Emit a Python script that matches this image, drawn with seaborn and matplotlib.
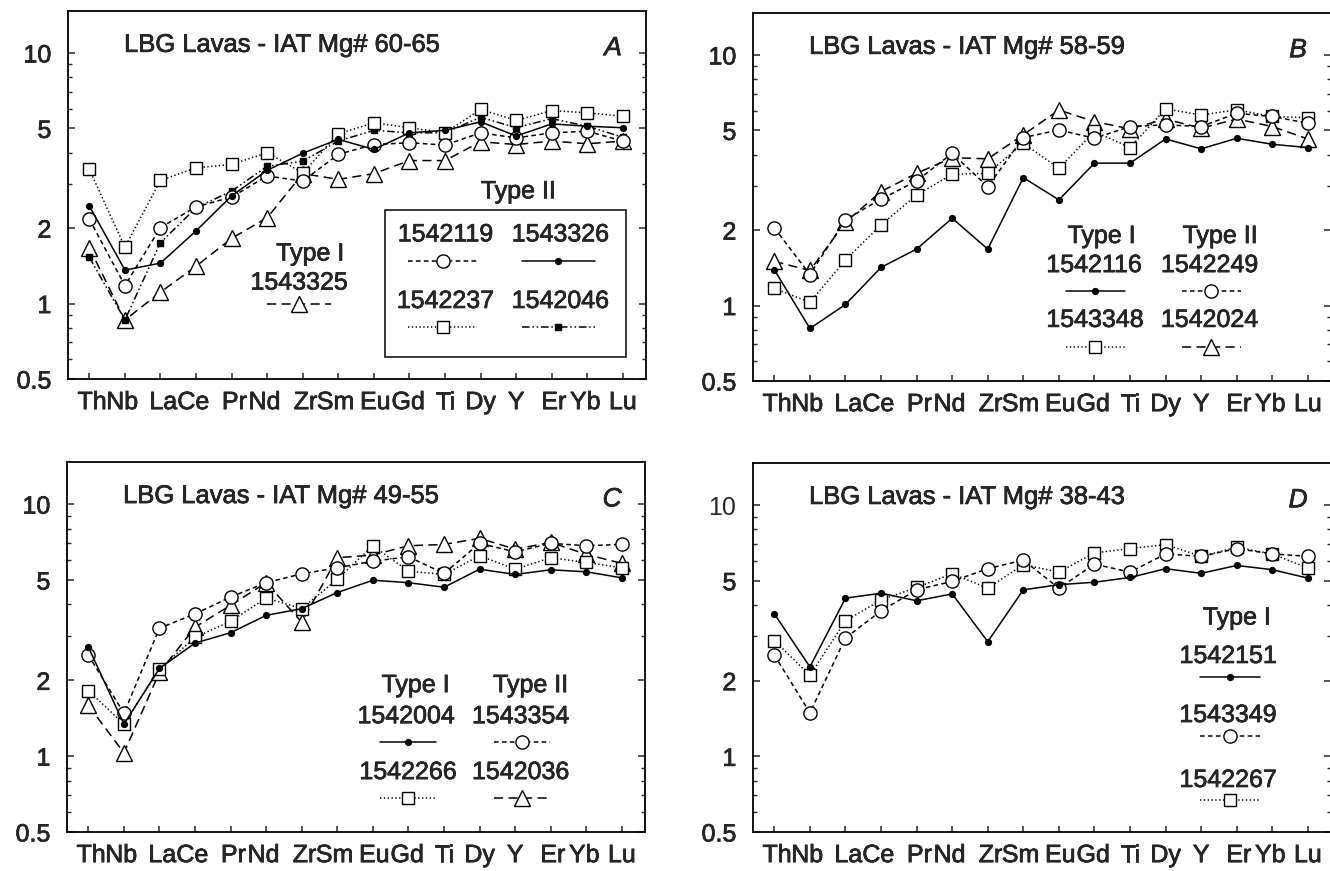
import numpy as np
import pandas as pd
import matplotlib
matplotlib.use("Agg")
import matplotlib.pyplot as plt
import matplotlib.transforms as mtransforms
import matplotlib.patheffects as pe
from matplotlib.patches import Rectangle
from matplotlib.text import Text
from matplotlib.ticker import FixedLocator, FixedFormatter, NullFormatter
import seaborn as sns

# ---------------- data ----------------
elements = ["Th", "Nb", "La", "Ce", "Pr", "Nd", "Zr", "Sm",
            "Eu", "Gd", "Ti", "Dy", "Y", "Er", "Yb", "Lu"]
y_major = [0.5, 1, 2, 5, 10]
y_major_labels = ["0.5", "1", "2", "5", "10"]
y_minor = [0.6, 0.7, 0.8, 0.9, 3, 4, 6, 7, 8, 9]

titles = ["LBG Lavas - IAT Mg# 60-65", "LBG Lavas - IAT Mg# 58-59",
          "LBG Lavas - IAT Mg# 49-55", "LBG Lavas - IAT Mg# 38-43"]
panel_letters = ["A", "B", "C", "D"]

# Panel A
a_1542119 = [2.17, 1.18, 2.01, 2.43, 2.66, 3.23, 3.08, 3.94, 4.31, 4.38, 4.29, 4.80, 4.58, 4.80, 4.87, 4.45]
a_1543326 = [2.45, 1.36, 1.45, 1.95, 2.69, 3.40, 3.98, 4.52, 4.12, 4.80, 4.91, 5.31, 4.66, 5.21, 5.10, 5.03]
a_1542237 = [3.43, 1.68, 3.10, 3.48, 3.59, 4.00, 3.32, 4.76, 5.26, 5.03, 4.80, 5.95, 5.38, 5.89, 5.77, 5.59]
a_1542046 = [1.53, 0.86, 1.75, 2.41, 2.81, 3.53, 3.70, 4.45, 4.91, 4.80, 4.80, 5.54, 5.03, 5.47, 5.10, 4.61]
a_1543325 = [1.67, 0.86, 1.11, 1.41, 1.82, 2.20, 3.30, 3.13, 3.30, 3.72, 3.72, 4.42, 4.31, 4.45, 4.34, 4.45]

# Panel B
b_1542116 = [1.39, 0.81, 1.01, 1.42, 1.68, 2.23, 1.68, 3.24, 2.64, 3.70, 3.70, 4.62, 4.22, 4.65, 4.40, 4.27]
b_1542249 = [2.04, 1.33, 2.20, 2.66, 3.14, 4.05, 2.98, 4.68, 5.02, 4.65, 5.18, 5.26, 5.18, 5.85, 5.68, 5.34]
b_1543348 = [1.17, 1.03, 1.52, 2.10, 2.76, 3.34, 3.37, 4.44, 3.53, 4.95, 4.27, 6.09, 5.76, 6.04, 5.68, 5.62]
b_1542024 = [1.50, 1.38, 2.15, 2.85, 3.37, 3.89, 3.85, 4.80, 6.03, 5.42, 5.07, 5.55, 5.10, 5.55, 5.18, 4.62]

# Panel C
c_1542004 = [2.71, 1.34, 2.23, 2.81, 3.09, 3.62, 3.85, 4.46, 4.99, 4.88, 4.68, 5.52, 5.26, 5.49, 5.39, 5.10]
c_1543354 = [2.52, 1.48, 3.22, 3.67, 4.28, 4.88, 5.29, 5.59, 5.94, 6.18, 5.31, 6.99, 6.47, 6.99, 6.84, 6.92]
c_1542266 = [1.82, 1.34, 2.22, 2.96, 3.43, 4.24, 3.85, 5.04, 6.84, 5.42, 5.26, 6.24, 5.52, 6.13, 5.87, 5.59]
c_1542036 = [1.59, 1.03, 2.15, 3.25, 3.97, 4.88, 3.40, 6.13, 6.28, 6.84, 6.92, 7.32, 6.63, 7.05, 6.32, 5.82]

# Panel D
d_1542151 = [3.69, 2.27, 4.26, 4.46, 4.16, 4.43, 2.86, 4.60, 4.82, 4.93, 5.15, 5.58, 5.35, 5.75, 5.53, 5.12]
d_1543349 = [2.53, 1.49, 2.96, 3.79, 4.60, 4.97, 5.58, 6.04, 4.67, 5.82, 5.41, 6.39, 6.25, 6.71, 6.39, 6.25]
d_1542267 = [2.89, 2.10, 3.46, 4.19, 4.70, 5.33, 4.67, 5.79, 5.41, 6.45, 6.71, 6.96, 6.25, 6.79, 6.39, 5.61]

# ---------------- styles ----------------
LW = 1.1
MEW = 1.0
STYLES = {
    "dot":     dict(marker="o", markersize=4.2, markerfacecolor="black", linestyle="-"),
    "circle":  dict(marker="o", markersize=9.5, markerfacecolor="white", linestyle=(0, (3.0, 2.2))),
    "square":  dict(marker="s", markersize=8.5, markerfacecolor="white", linestyle=(0, (0.9, 1.6))),
    "triangle": dict(marker="^", markersize=11, markerfacecolor="white", linestyle=(0, (6, 3.5))),
    "fsquare": dict(marker="s", markersize=4.6, markerfacecolor="black", linestyle=(0, (5, 1.8, 1, 1.8, 1, 1.8))),
}
FS = 18

sns.set_style("ticks")
plt.rcParams["font.family"] = ["Liberation Sans", "DejaVu Sans"]
plt.rcParams["axes.linewidth"] = 1.3

fig = plt.figure(figsize=(13.3, 8.71), dpi=100)
W, H = 1330.0, 871.0
rects = [
    (68, 11, 646, 379),
    (753, 13, 1331, 381),
    (67, 462, 645, 832),
    (753, 463, 1331, 832),
]
axes = []
for (l, t, r, b) in rects:
    axes.append(fig.add_axes([l / W, 1 - b / H, (r - l) / W, (b - t) / H]))

xpos = np.arange(len(elements))
label_dx = [2.0, -2.0, 2.0, -2.0, 2.0, -2.0, 2.0, -2.0, 1.0, -1.0, 0, 0, 0, 1.5, -1.5, 0]

def draw_series(ax, vals, style):
    st = STYLES[style]
    sns.lineplot(x=xpos, y=vals, ax=ax, color="black", linewidth=LW,
                 markeredgecolor="black", markeredgewidth=MEW,
                 errorbar=None, estimator=None, sort=False, legend=False, **st)

def sample(ax, x0, x1, y, style):
    st = STYLES[style]
    ax.plot([x0, (x0 + x1) / 2, x1], [y, y, y], transform=ax.transAxes,
            clip_on=False, color="black", linewidth=LW, markevery=[1],
            markeredgecolor="black", markeredgewidth=MEW, **st)

def txt(ax, x, y, s, **kw):
    kw.setdefault("fontsize", FS)
    kw.setdefault("ha", "center")
    ax.text(x, y, s, transform=ax.transAxes, va="center", **kw)

def format_axes(ax, idx):
    ax.set_yscale("log")
    ax.set_ylim(0.5, 14.7)
    ax.set_xlim(-0.6, 15.65)
    ax.yaxis.set_major_locator(FixedLocator(y_major))
    ax.yaxis.set_major_formatter(FixedFormatter(y_major_labels))
    ax.yaxis.set_minor_locator(FixedLocator(y_minor))
    ax.yaxis.set_minor_formatter(NullFormatter())
    ax.set_xticks(xpos)
    ax.set_xticklabels(elements)
    ax.tick_params(axis="y", which="major", direction="in", length=5, width=1.1,
                   left=True, right=True, labelleft=True, labelright=False,
                   labelsize=FS, pad=12)
    ax.tick_params(axis="y", which="minor", direction="in", length=3, width=1.0,
                   left=True, right=True)
    ax.tick_params(axis="x", which="major", direction="in", length=4.5, width=1.1,
                   bottom=True, top=False, labelsize=FS, pad=8)
    ax.tick_params(axis="x", which="minor", bottom=False, top=False)
    for lbl, dx in zip(ax.get_xticklabels(), label_dx):
        off = mtransforms.ScaledTranslation(dx / 72.0, 0, fig.dpi_scale_trans)
        lbl.set_transform(lbl.get_transform() + off)
    for sp in ax.spines.values():
        sp.set_visible(True)
        sp.set_linewidth(1.3)
        sp.set_color("black")
    ax.set_xlabel("")
    ax.set_ylabel("")
    ax.text(0.097, 0.908, titles[idx], transform=ax.transAxes, ha="left",
            va="center", fontsize=18.4)
    ax.text(0.943, 0.899, panel_letters[idx], transform=ax.transAxes, ha="center",
            va="center", fontsize=19, style="italic")

for ax in axes:
    ax.set_yscale("log")

# Panel A
ax = axes[0]
draw_series(ax, a_1543325, "triangle")
draw_series(ax, a_1542046, "fsquare")
draw_series(ax, a_1542237, "square")
draw_series(ax, a_1542119, "circle")
draw_series(ax, a_1543326, "dot")
format_axes(ax, 0)
txt(ax, 0.419, 0.341, "Type I")
txt(ax, 0.400, 0.262, "1543325")
sample(ax, 0.345, 0.455, 0.203, "triangle")
txt(ax, 0.779, 0.510, "Type II")
ax.add_patch(Rectangle((0.548, 0.061), 0.417, 0.398, transform=ax.transAxes,
                       fill=False, linewidth=1.1, edgecolor="black"))
txt(ax, 0.653, 0.393, "1542119")
sample(ax, 0.588, 0.708, 0.320, "circle")
txt(ax, 0.852, 0.393, "1543326")
sample(ax, 0.785, 0.912, 0.320, "dot")
txt(ax, 0.653, 0.212, "1542237")
sample(ax, 0.588, 0.708, 0.140, "square")
txt(ax, 0.852, 0.212, "1542046")
sample(ax, 0.785, 0.912, 0.140, "fsquare")

# Panel B
ax = axes[1]
draw_series(ax, b_1542024, "triangle")
draw_series(ax, b_1543348, "square")
draw_series(ax, b_1542249, "circle")
draw_series(ax, b_1542116, "dot")
format_axes(ax, 1)
txt(ax, 0.603, 0.394, "Type I")
txt(ax, 0.808, 0.394, "Type II")
txt(ax, 0.590, 0.315, "1542116")
sample(ax, 0.541, 0.643, 0.245, "dot")
txt(ax, 0.790, 0.315, "1542249")
sample(ax, 0.742, 0.844, 0.245, "circle")
txt(ax, 0.592, 0.166, "1543348")
sample(ax, 0.541, 0.643, 0.092, "square")
txt(ax, 0.790, 0.166, "1542024")
sample(ax, 0.742, 0.844, 0.092, "triangle")

# Panel C
ax = axes[2]
draw_series(ax, c_1542036, "triangle")
draw_series(ax, c_1542266, "square")
draw_series(ax, c_1543354, "circle")
draw_series(ax, c_1542004, "dot")
format_axes(ax, 2)
txt(ax, 0.603, 0.397, "Type I")
txt(ax, 0.802, 0.397, "Type II")
txt(ax, 0.587, 0.313, "1542004")
sample(ax, 0.541, 0.639, 0.244, "dot")
txt(ax, 0.785, 0.313, "1543354")
sample(ax, 0.738, 0.836, 0.244, "circle")
txt(ax, 0.590, 0.162, "1542266")
sample(ax, 0.541, 0.639, 0.092, "square")
txt(ax, 0.785, 0.162, "1542036")
sample(ax, 0.738, 0.836, 0.092, "triangle")

# Panel D
ax = axes[3]
draw_series(ax, d_1542267, "square")
draw_series(ax, d_1543349, "circle")
draw_series(ax, d_1542151, "dot")
format_axes(ax, 3)
txt(ax, 0.837, 0.581, "Type I")
txt(ax, 0.822, 0.477, "1542151")
sample(ax, 0.774, 0.877, 0.419, "dot")
txt(ax, 0.822, 0.317, "1543349")
sample(ax, 0.774, 0.877, 0.259, "circle")
txt(ax, 0.822, 0.141, "1542267")
sample(ax, 0.774, 0.877, 0.086, "square")

# slightly heavier text to match the scanned look
fx = [pe.withStroke(linewidth=0.45, foreground="black")]
for t in fig.findobj(Text):
    if t.get_text():
        t.set_path_effects(fx)

fig.savefig("out.png", dpi=100, facecolor="white")
